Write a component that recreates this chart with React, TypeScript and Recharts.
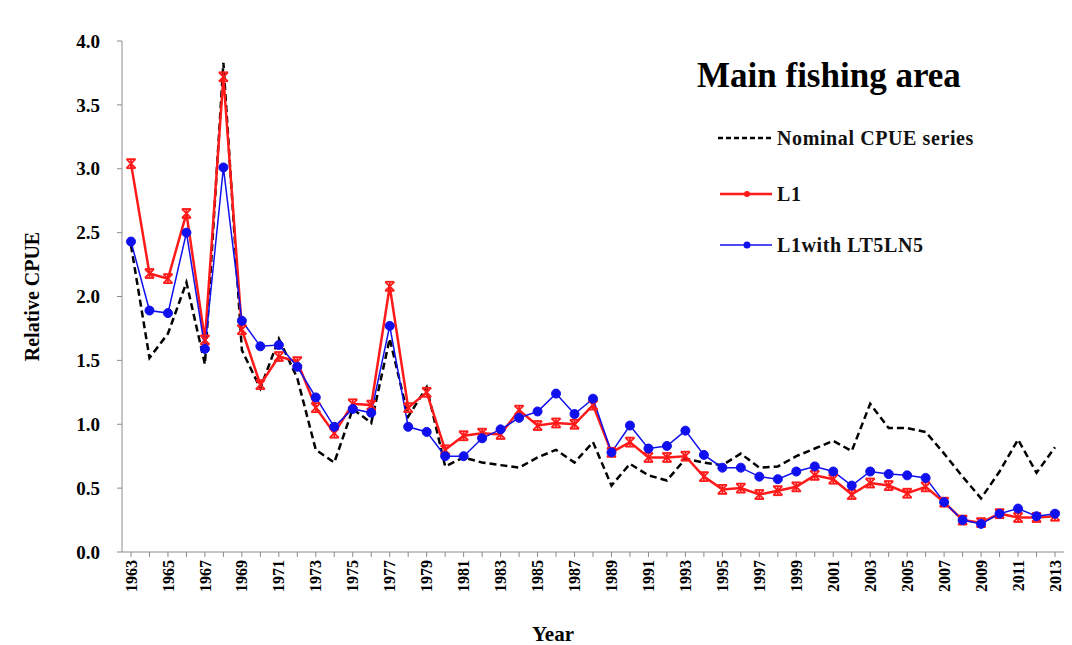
import React from 'react';
import { LineChart, Line, XAxis, YAxis, Label } from 'recharts';

const years = [
  '1963', '1964', '1965', '1966', '1967', '1968', '1969', '1970', '1971', '1972',
  '1973', '1974', '1975', '1976', '1977', '1978', '1979', '1980', '1981', '1982',
  '1983', '1984', '1985', '1986', '1987', '1988', '1989', '1990', '1991', '1992',
  '1993', '1994', '1995', '1996', '1997', '1998', '1999', '2000', '2001', '2002',
  '2003', '2004', '2005', '2006', '2007', '2008', '2009', '2010', '2011', '2012', '2013',
];

const nominal = [
  2.40, 1.52, 1.71, 2.11, 1.47, 3.83, 1.58, 1.28, 1.67, 1.36,
  0.80, 0.70, 1.12, 1.01, 1.67, 1.06, 1.29, 0.67, 0.74, 0.70,
  0.68, 0.66, 0.74, 0.80, 0.70, 0.86, 0.52, 0.69, 0.60, 0.56,
  0.73, 0.70, 0.68, 0.77, 0.66, 0.67, 0.75, 0.81, 0.87, 0.79,
  1.16, 0.97, 0.97, 0.94, 0.77, 0.59, 0.42, 0.63, 0.88, 0.62, 0.82,
];

const l1 = [
  3.04, 2.18, 2.14, 2.65, 1.66, 3.72, 1.74, 1.31, 1.53, 1.49,
  1.13, 0.93, 1.16, 1.15, 2.08, 1.13, 1.25, 0.80, 0.91, 0.93,
  0.92, 1.11, 0.99, 1.01, 1.00, 1.15, 0.78, 0.86, 0.74, 0.74,
  0.75, 0.59, 0.49, 0.50, 0.45, 0.48, 0.51, 0.60, 0.57, 0.45,
  0.54, 0.52, 0.46, 0.51, 0.39, 0.25, 0.23, 0.30, 0.27, 0.27, 0.28,
];

const l1Lt5Ln5 = [
  2.43, 1.89, 1.87, 2.50, 1.59, 3.01, 1.81, 1.61, 1.62, 1.45,
  1.21, 0.98, 1.12, 1.09, 1.77, 0.98, 0.94, 0.75, 0.75, 0.89,
  0.96, 1.05, 1.10, 1.24, 1.08, 1.20, 0.78, 0.99, 0.81, 0.83,
  0.95, 0.76, 0.66, 0.66, 0.59, 0.57, 0.63, 0.67, 0.63, 0.52,
  0.63, 0.61, 0.60, 0.58, 0.39, 0.25, 0.22, 0.30, 0.34, 0.28, 0.30,
];

const yTicks = [0, 0.5, 1, 1.5, 2, 2.5, 3, 3.5, 4];

const data = years.map((year, i) => ({
  year,
  nominal: nominal[i],
  l1: l1[i],
  l1Lt5Ln5: l1Lt5Ln5[i],
}));

const FONT = '"Liberation Serif", "Times New Roman", serif';
const RED = '#ff1a1a';
const BLUE = '#1010ee';

// Excel-style star marker: an X with a vertical stroke through it
const StarDot = ({ cx, cy }: any) => {
  if (cx == null || cy == null) return null;
  const s = 4.5;
  return (
    <g stroke={RED} strokeWidth={1.8}>
      <line x1={cx - s} y1={cy - s} x2={cx + s} y2={cy + s} />
      <line x1={cx - s} y1={cy + s} x2={cx + s} y2={cy - s} />
      <line x1={cx} y1={cy - s} x2={cx} y2={cy + s} />
      <line x1={cx - s} y1={cy - s} x2={cx + s} y2={cy - s} />
      <line x1={cx - s} y1={cy + s} x2={cx + s} y2={cy + s} />
    </g>
  );
};

// every category gets a tick line, only odd years get a label
const YearTick = ({ x, y, payload, index }: any) => {
  if (index % 2 !== 0) return null;
  return (
    <g transform={`translate(${x},${y})`}>
      <text
        transform="rotate(-90)"
        textAnchor="end"
        dy="0.35em"
        fontFamily={FONT}
        fontWeight="bold"
        fontSize={16}
        fill="#000"
      >
        {payload.value}
      </text>
    </g>
  );
};

const LegendBox = () => (
  <svg width={340} height={150} style={{ display: 'block' }}>
    <g fontFamily={FONT} fontWeight="bold" fontSize={20} letterSpacing={0.6} fill="#111">
      <line x1={8} y1={18} x2={64} y2={18} stroke="#000" strokeWidth={2.5} strokeDasharray="5 3" />
      <text x={67} y={25}>Nominal CPUE series</text>

      <line x1={10} y1={74} x2={62} y2={74} stroke={RED} strokeWidth={2.5} />
      <circle cx={37} cy={74} r={3} fill={RED} />
      <text x={67} y={81}>L1</text>

      <line x1={10} y1={125} x2={62} y2={125} stroke={BLUE} strokeWidth={1.5} />
      <circle cx={37} cy={125} r={3.5} fill={BLUE} />
      <text x={67} y={132}>L1with LT5LN5</text>
    </g>
  </svg>
);

export default function App() {
  return (
    <div style={{ position: 'absolute', left: 0, top: 0, width: 1072, height: 645, background: '#fff' }}>
      <LineChart
        width={1072}
        height={645}
        data={data}
        margin={{ top: 41, right: 8, left: 0, bottom: 0 }}
      >
        <XAxis
          dataKey="year"
          interval={0}
          height={93}
          padding={{ left: 9, right: 9 }}
          tick={<YearTick />}
          tickSize={5}
          tickMargin={3}
          stroke="#8c8c8c"
          axisLine={{ stroke: '#8c8c8c' }}
          tickLine={{ stroke: '#8c8c8c' }}
        >
          <Label
            value="Year"
            position="insideBottom"
            offset={4}
            dx={-40}
            style={{ fontFamily: FONT, fontWeight: 'bold', fontSize: 21, fill: '#000' }}
          />
        </XAxis>
        <YAxis
          width={122}
          domain={[0, 4]}
          ticks={yTicks}
          tickFormatter={(v: number) => v.toFixed(1)}
          tick={{ fontFamily: FONT, fontWeight: 'bold', fontSize: 19, fill: '#000' }}
          tickSize={5}
          tickMargin={17}
          axisLine={{ stroke: '#8c8c8c' }}
          tickLine={{ stroke: '#8c8c8c' }}
        >
          <Label
            value="Relative CPUE"
            angle={-90}
            position="insideLeft"
            offset={32}
            style={{ fontFamily: FONT, fontWeight: 'bold', fontSize: 20, fill: '#000', textAnchor: 'middle' }}
          />
        </YAxis>
        <Line
          dataKey="nominal"
          name="Nominal CPUE series"
          stroke="#000"
          strokeWidth={2.5}
          strokeDasharray="7 4"
          dot={false}
          isAnimationActive={false}
        />
        <Line
          dataKey="l1"
          name="L1"
          stroke={RED}
          strokeWidth={2.5}
          dot={<StarDot />}
          isAnimationActive={false}
        />
        <Line
          dataKey="l1Lt5Ln5"
          name="L1with LT5LN5"
          stroke={BLUE}
          strokeWidth={1.5}
          dot={{ r: 4.5, fill: BLUE, stroke: BLUE, strokeWidth: 1 }}
          isAnimationActive={false}
        />
      </LineChart>
      <div
        style={{
          position: 'absolute',
          left: 697,
          top: 56,
          fontFamily: FONT,
          fontWeight: 'bold',
          fontSize: 35,
          color: '#000',
          whiteSpace: 'nowrap',
        }}
      >
        Main fishing area
      </div>
      <div style={{ position: 'absolute', left: 710, top: 120 }}>
        <LegendBox />
      </div>
    </div>
  );
}
